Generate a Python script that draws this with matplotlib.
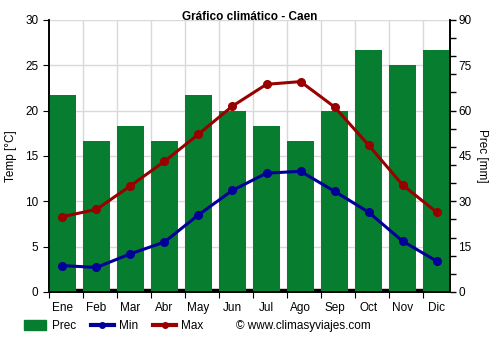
import numpy as np
import matplotlib.pyplot as plt
from matplotlib.lines import Line2D
from matplotlib.patches import Patch

plt.rcParams['font.family'] = ['Liberation Sans', 'DejaVu Sans']

# Monthly climate data for Caen
months = ["Ene", "Feb", "Mar", "Abr", "May", "Jun", "Jul", "Ago", "Sep", "Oct", "Nov", "Dic"]
prec = [65, 50, 55, 50, 65, 60, 55, 50, 60, 80, 75, 80]
t_min = [2.9, 2.7, 4.2, 5.5, 8.5, 11.2, 13.1, 13.3, 11.1, 8.8, 5.6, 3.4]
t_max = [8.3, 9.1, 11.7, 14.4, 17.4, 20.5, 22.9, 23.2, 20.4, 16.2, 11.8, 8.8]

green = "#077d2f"
red = "#990000"
blue = "#000099"
grid_col = "#d9d9d9"

x = np.arange(len(months))
bw = 0.79

fig = plt.figure(figsize=(5, 3.5), dpi=100)
ax = fig.add_axes([0.098, 0.166, 0.802, 0.777])
ax2 = ax.twinx()

# precipitation bars on the right axis, drawn underneath the temperature lines
ax.set_zorder(2)
ax.patch.set_visible(False)
ax2.set_zorder(1)

ax2.axhspan(0, 0.9, color="black", zorder=1)
ax2.bar(x, prec, width=bw, color=green, zorder=3)
ax2.set_ylim(0, 90)
ax2.yaxis.remove_overlapping_locs = False
ax2.set_yticks(np.arange(0, 91, 15))
ax2.set_yticklabels([str(v) for v in range(0, 91, 15)])
ax2.set_yticks(np.arange(0, 91, 6), minor=True)
ax2.tick_params(axis="y", which="major", length=0, pad=6, labelsize=8.5)
ax2.tick_params(axis="y", which="minor", length=4, width=1)
ax2.set_ylabel("Prec [mm]", rotation=270, labelpad=12, fontsize=8.5)

# background grid on the twin axis so bars sit above it
for v in range(5, 31, 5):
    ax2.axhline(v * 3, color=grid_col, lw=1, zorder=0)
for b in x[1:] - bw / 2:
    ax2.axvline(b, color=grid_col, lw=1, zorder=0)

ax.plot(x, t_min, color=blue, lw=2.2, marker="o", ms=5.5, zorder=4)
ax.plot(x, t_max, color=red, lw=2.2, marker="o", ms=5.5, zorder=4)
ax.set_ylim(0, 30)
ax.set_xlim(-bw / 2, len(months) - 1 + bw / 2)
ax.set_yticks(range(0, 31, 5))
ax.set_ylabel("Temp [°C]", fontsize=8.5, labelpad=6)
ax.tick_params(axis="y", length=4, labelsize=8.5)

ax.set_xticks(x - bw / 2)
ax.set_xticklabels([])
ax.set_xticks(x, minor=True)
ax.set_xticklabels(months, minor=True)
ax.tick_params(axis="x", which="major", length=4)
ax.tick_params(axis="x", which="minor", length=0, pad=7, labelsize=8.5)

for a in (ax, ax2):
    a.spines["top"].set_visible(False)
    a.spines["left"].set_linewidth(1.2)
    a.spines["right"].set_linewidth(1.2)
    a.spines["bottom"].set_linewidth(1.2)

fig.text(0.5, 0.952, "Gráfico climático - Caen", ha="center", va="center",
         fontsize=8.5, fontweight="bold")

handles = [
    Patch(color=green),
    Line2D([], [], color=blue, lw=3, marker="o", ms=4),
    Line2D([], [], color=red, lw=3, marker="o", ms=4),
]
fig.legend(handles, ["Prec", "Min", "Max"], loc="center left",
           bbox_to_anchor=(0.048, 0.068), ncol=3, frameon=False,
           fontsize=8.5, handlelength=1.9, handleheight=0.9, handletextpad=0.45,
           columnspacing=1.3, borderpad=0, borderaxespad=0)
fig.text(0.472, 0.068, "© www.climasyviajes.com", ha="left", va="center", fontsize=8.5)

fig.savefig("out.png", dpi=100)
